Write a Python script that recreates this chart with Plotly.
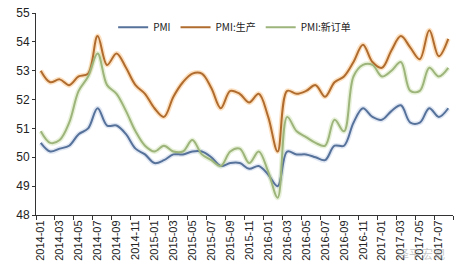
import plotly.graph_objects as go

months = [f"{y}-{m:02d}" for y in range(2014, 2018) for m in range(1, 13)][:44]

pmi = [50.5, 50.2, 50.3, 50.4, 50.8, 51.0, 51.7, 51.1, 51.1, 50.8, 50.3, 50.1,
       49.8, 49.9, 50.1, 50.1, 50.2, 50.2, 50.0, 49.7, 49.8, 49.8, 49.6, 49.7,
       49.4, 49.0, 50.2, 50.1, 50.1, 50.0, 49.9, 50.4, 50.4, 51.2, 51.7, 51.4,
       51.3, 51.6, 51.8, 51.2, 51.2, 51.7, 51.4, 51.7]
production = [53.0, 52.6, 52.7, 52.5, 52.8, 52.9, 54.2, 53.2, 53.6, 53.1, 52.5, 52.2,
              51.7, 51.4, 52.1, 52.6, 52.9, 52.9, 52.4, 51.7, 52.3, 52.2, 51.9, 52.2,
              51.4, 50.2, 52.3, 52.2, 52.3, 52.5, 52.1, 52.6, 52.8, 53.3, 53.9, 53.3,
              53.1, 53.7, 54.2, 53.8, 53.4, 54.4, 53.5, 54.1]
new_orders = [50.9, 50.5, 50.6, 51.2, 52.3, 52.8, 53.6, 52.5, 52.2, 51.6, 50.9, 50.4,
              50.2, 50.4, 50.2, 50.2, 50.6, 50.1, 49.9, 49.7, 50.2, 50.3, 49.8, 50.2,
              49.5, 48.6, 51.4, 50.9, 50.7, 50.5, 50.4, 51.3, 50.9, 52.8, 53.2, 53.2,
              52.8, 53.0, 53.3, 52.3, 52.3, 53.1, 52.8, 53.1]

series = [
    ("PMI", pmi, "#56719A", "rgba(120,150,200,0.22)"),
    ("PMI:生产", production, "#B06C2E", "rgba(245,170,80,0.35)"),
    ("PMI:新订单", new_orders, "#9DB47B", "rgba(190,215,150,0.35)"),
]

fig = go.Figure()
for name, vals, col, glow in series:
    fig.add_trace(go.Scatter(x=months, y=vals, mode="lines", showlegend=False,
                             hoverinfo="skip",
                             line=dict(color=glow, width=5, shape="spline", smoothing=1)))
for name, vals, col, glow in series:
    fig.add_trace(go.Scatter(x=months, y=vals, mode="lines", name=name,
                             line=dict(color=col, width=2, shape="spline", smoothing=1)))

fig.update_layout(
    width=473, height=263,
    margin=dict(l=36, r=20, t=13, b=48),
    paper_bgcolor="white", plot_bgcolor="white",
    font=dict(family="Liberation Sans, Arial, sans-serif", color="#222222"),
    legend=dict(orientation="h", x=0.185, y=0.93, xanchor="left", yanchor="middle",
                font=dict(family="Noto Sans CJK SC, monospace", size=10, color="#222222"),
                bgcolor="rgba(0,0,0,0)", itemwidth=30, tracegroupgap=0),
    xaxis=dict(type="category", range=[-0.5, 43.5], tickmode="linear", tick0=0, dtick=2,
               tickson="boundaries", ticks="outside", ticklen=4, tickcolor="#333",
               showline=True, linecolor="#333", linewidth=1, showgrid=False,
               tickangle=-90, tickfont=dict(size=11, color="#222"), automargin=False),
    yaxis=dict(range=[48, 55], dtick=1, ticks="outside", ticklen=3, tickcolor="#333",
               showline=True, linecolor="#333", linewidth=1, showgrid=False,
               zeroline=False, tickfont=dict(size=12, color="#222"), automargin=False),
)

fig.add_annotation(text="泽平宏观", xref="paper", yref="paper", x=0.985, y=-0.19,
                   xanchor="right", yanchor="middle", showarrow=False,
                   font=dict(family="Noto Sans CJK SC", size=12, color="rgba(150,150,150,0.55)"))

fig.write_html("out.html")
